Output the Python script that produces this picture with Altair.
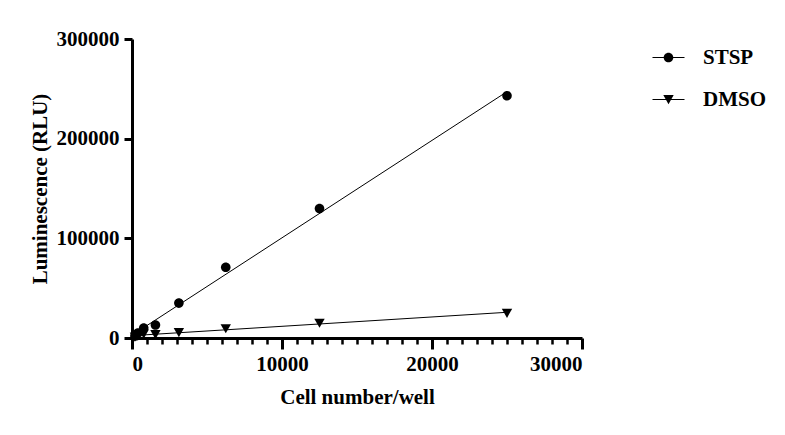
import altair as alt
import pandas as pd

# cell numbers per well (serial dilution)
cells = [195, 390, 781, 1562, 3125, 6250, 12500, 25000]
stsp = [2000, 5000, 10000, 13000, 35000, 71000, 130000, 243000]
dmso = [1000, 2000, 4000, 3500, 5500, 9500, 15000, 25000]
groups = ['STSP', 'DMSO']

x_ticks = list(range(0, 30001, 1000))  # major every 10000, minor every 1000
y_major = [0, 100000, 200000, 300000]

df = pd.DataFrame({
    'cells': cells * 2,
    'rlu': stsp + dmso,
    'group': ['STSP'] * len(cells) + ['DMSO'] * len(cells),
})

FONT = 'Liberation Serif'
TXT = dict(labelFont=FONT, titleFont=FONT, labelFontSize=21, titleFontSize=21,
           labelFontWeight='bold', titleFontWeight='bold', labelColor='black',
           titleColor='black', domainColor='black', tickColor='black', grid=False)
IS_MAJOR = 'datum.value % 10000 === 0'

# marker shapes; legend versions carry a thin bar for the connecting line
circle_path = 'M0.6,0A0.6,0.6 0 1,1 -0.6,0A0.6,0.6 0 1,1 0.6,0Z'
tri_path = 'M-0.65,-0.55L0.65,-0.55L0,0.6Z'
bar = 'M-2,-0.07H2V0.07H-2Z'
circle_key = bar + circle_path
tri_key = bar + tri_path

xscale = alt.Scale(domain=[0, 30000], nice=False)
yscale = alt.Scale(domain=[0, 300000], nice=False)

base = alt.Chart(df)

points = base.mark_point(
    filled=True, size=256, opacity=1, color='black', strokeWidth=0
).encode(
    x=alt.X('cells:Q', scale=xscale,
            axis=alt.Axis(values=x_ticks, tickCount=100, title='Cell number/well',
                          orient='bottom',
                          tickSize={'condition': {'test': IS_MAJOR, 'value': 11}, 'value': 6},
                          tickWidth={'condition': {'test': IS_MAJOR, 'value': 3}, 'value': 2.5},
                          labelExpr=f"{IS_MAJOR} ? datum.label : ''", labelOverlap=False,
                          domainWidth=3, labelPadding=4, titlePadding=12, format='d', **TXT)),
    y=alt.Y('rlu:Q', scale=yscale,
            axis=alt.Axis(values=y_major, title='Luminescence (RLU)', tickSize=8,
                          tickWidth=3, domainWidth=3, labelPadding=5,
                          titlePadding=6, format='d', **TXT)),
    shape=alt.Shape('group:N', scale=alt.Scale(domain=groups, range=[circle_path, tri_path]),
                    legend=None),
)

# draws nothing, only carries the legend
key = base.transform_filter('false').mark_point(
    filled=True, size=256, opacity=1, color='black', strokeWidth=0
).encode(
    x=alt.X('cells:Q', scale=xscale),
    y=alt.Y('rlu:Q', scale=yscale),
    shape=alt.Shape('group:N', scale=alt.Scale(domain=groups, range=[circle_key, tri_key]),
                    legend=alt.Legend(title=None, orient='none', legendX=526, legendY=8,
                                      padding=0, labelOffset=24, rowPadding=20,
                                      symbolSize=256, symbolFillColor='black',
                                      labelFont=FONT, labelFontSize=21,
                                      labelFontWeight='bold', labelColor='black')),
)

fits = base.transform_regression(
    'cells', 'rlu', groupby=['group']
).mark_line(color='black', strokeWidth=1).encode(
    x=alt.X('cells:Q', scale=xscale),
    y=alt.Y('rlu:Q', scale=yscale),
    detail='group:N',
)

chart = alt.layer(fits, points, key).resolve_scale(
    shape='independent'
).resolve_legend(shape='independent').properties(
    width=450, height=299,
    autosize=alt.AutoSizeParams(type='none'),
    padding={'left': 124, 'top': 31, 'right': 195, 'bottom': 89},
).configure_view(stroke=None)

chart.save("out.html", embed_options={"renderer": "svg", "actions": False})
